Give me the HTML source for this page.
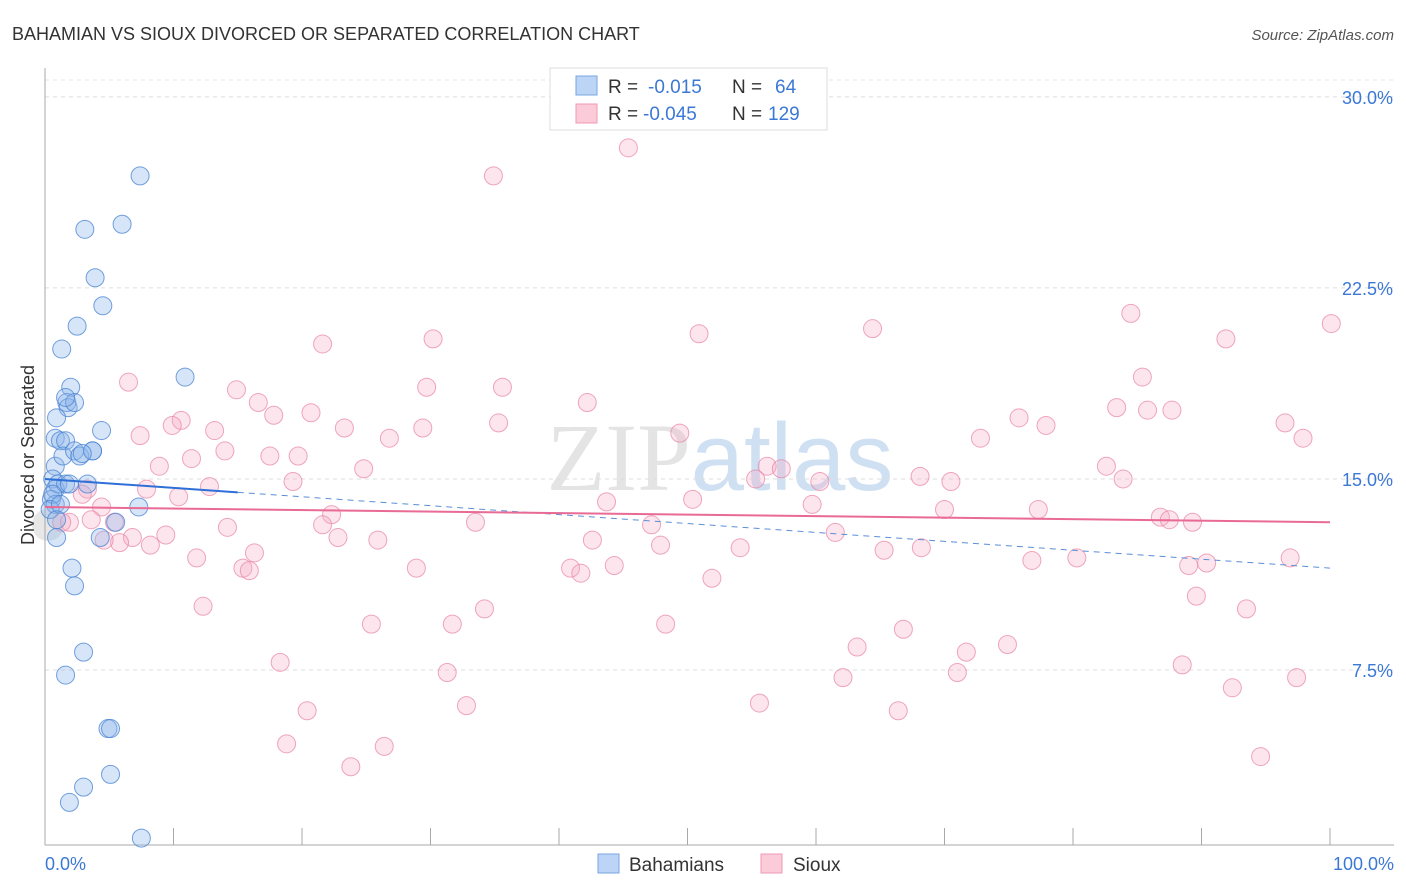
<!DOCTYPE html>
<html><head><meta charset="utf-8"><style>
body{margin:0;background:#fff;font-family:"Liberation Sans",sans-serif}
svg{display:block}
</style></head><body>
<svg width="1406" height="892">
<text x="12" y="40" font-size="18" fill="#333">BAHAMIAN VS SIOUX DIVORCED OR SEPARATED CORRELATION CHART</text>
<text x="1394" y="40" font-size="15" fill="#555" font-style="italic" text-anchor="end">Source: ZipAtlas.com</text>
<text x="720" y="490" font-size="96" fill="#e4e4e4" text-anchor="middle" font-family="Liberation Serif">ZIP<tspan fill="#cfe0f3" font-family="Liberation Sans">atlas</tspan></text>
<g id="grid"></g>
<g id="axes"></g>
<text transform="translate(34,455) rotate(-90)" font-size="18" fill="#333" text-anchor="middle">Divorced or Separated</text>
<text x="45" y="870" font-size="18" fill="#3b78d6">0.0%</text>
<text x="1394" y="870" font-size="18" fill="#3b78d6" text-anchor="end">100.0%</text>
<circle cx="48" cy="525" r="16" fill="rgba(160,160,160,0.25)"/>
<g id="pts"></g>
<g id="lines"></g>
<g>
<rect x="550" y="68" width="277" height="62" fill="#fff" stroke="#ddd"/>
<rect x="576" y="76" width="21" height="19" fill="#bcd4f5" stroke="#7aa6e3"/>
<rect x="576" y="104" width="21" height="19" fill="#fbcbd9" stroke="#ef9ab4"/>
<text x="608" y="93" font-size="19" fill="#333">R = <tspan fill="#3b78d6" x="648">-0.015</tspan><tspan x="732" fill="#333">N =</tspan><tspan x="775" fill="#3b78d6">64</tspan></text>
<text x="608" y="120" font-size="19" fill="#333">R = <tspan fill="#3b78d6" x="643">-0.045</tspan><tspan x="732" fill="#333">N =</tspan><tspan x="768" fill="#3b78d6">129</tspan></text>
</g>
<g>
<rect x="598" y="854" width="21" height="19" fill="#bcd4f5" stroke="#7aa6e3"/>
<text x="629" y="871" font-size="19" fill="#333">Bahamians</text>
<rect x="761" y="854" width="21" height="19" fill="#fbcbd9" stroke="#ef9ab4"/>
<text x="793" y="871" font-size="19" fill="#333">Sioux</text>
</g>
</svg>
<script>
const yTicks=[7.5,15,22.5,30];
const yTickLabels=["7.5%","15.0%","22.5%","30.0%"];
const xTicks=[0,10,20,30,40,50,60,70,80,90,100];
const blueX=[7.4,3.1,6.0,3.9,4.5,2.5,1.3,10.9,2.0,1.7,1.8,2.3,1.6,4.4,0.9,0.8,1.2,1.6,0.8,1.4,2.3,2.7,3.7,3.7,2.9,0.6,0.8,1.0,1.6,1.9,3.3,0.5,0.8,0.6,0.4,1.2,7.3,5.5,0.9,0.9,4.3,2.1,2.3,3.0,1.6,4.9,5.1,5.1,3.0,1.9,7.5];
const blueY=[26.9,24.8,25.0,22.9,21.8,21.0,20.1,19.0,18.6,18.0,17.8,18.0,18.2,16.9,17.4,16.6,16.5,16.5,15.5,15.9,16.1,15.9,16.1,16.1,16.0,15.0,14.6,14.8,14.8,14.8,14.8,14.2,14.0,14.4,13.8,14.0,13.9,13.3,12.7,13.4,12.7,11.5,10.8,8.2,7.3,5.2,5.2,3.4,2.9,2.3,0.9];
const pinkX=[45.4,34.9,84.5,100.1,64.4,50.9,91.9,30.2,21.6,6.5,14.9,29.7,35.6,85.4,42.2,16.6,17.8,20.7,83.4,85.8,87.7,75.8,96.5,10.6,9.9,13.2,23.3,7.4,26.8,29.4,35.3,49.4,72.8,77.9,97.9,14.0,11.4,17.5,19.7,8.9,24.8,56.2,57.3,82.6,55.3,68.1,70.5,83.9,19.3,12.8,7.9,3.3,2.9,60.3,10.4,50.4,43.7,59.7,70.0,77.3,4.4,22.3,33.5,47.2,21.6,14.2,5.4,3.6,1.9,1.3,86.8,87.5,89.3,61.5,6.8,5.8,4.6,8.2,9.4,22.8,25.9,42.6,47.9,54.1,65.3,68.2,16.3,11.8,96.9,76.8,80.3,89.0,90.4,15.4,15.9,28.9,40.9,41.7,44.3,51.9,89.6,12.3,34.2,93.5,25.4,31.7,48.3,66.8,63.2,71.7,74.9,18.3,88.5,31.3,62.1,71.0,92.4,97.4,32.8,20.4,55.6,66.4,18.8,26.4,23.8,94.6];
const pinkY=[28.0,26.9,21.5,21.1,20.9,20.7,20.5,20.5,20.3,18.8,18.5,18.6,18.6,19.0,18.0,18.0,17.5,17.6,17.8,17.7,17.7,17.4,17.2,17.3,17.1,16.9,17.0,16.7,16.6,17.0,17.2,16.8,16.6,17.1,16.6,16.1,15.8,15.9,15.9,15.5,15.4,15.5,15.4,15.5,15.0,15.1,14.9,15.0,14.9,14.7,14.6,14.6,14.4,14.9,14.3,14.2,14.1,14.0,13.8,13.8,13.9,13.6,13.3,13.2,13.2,13.1,13.3,13.4,13.3,13.3,13.5,13.4,13.3,12.9,12.7,12.5,12.6,12.4,12.8,12.7,12.6,12.6,12.4,12.3,12.2,12.3,12.1,11.9,11.9,11.8,11.9,11.6,11.7,11.5,11.4,11.5,11.5,11.3,11.6,11.1,10.4,10.0,9.9,9.9,9.3,9.3,9.3,9.1,8.4,8.2,8.5,7.8,7.7,7.4,7.2,7.4,6.8,7.2,6.1,5.9,6.2,5.9,4.6,4.5,3.7,4.1];
const blueFit=[15.0,11.5];
const pinkFit=[13.9,13.3];
const NS="http://www.w3.org/2000/svg";
const sx=v=>45+v*12.85;
const sy=v=>861-v*25.47;
function mk(t,a,p){const e=document.createElementNS(NS,t);for(const k in a)e.setAttribute(k,a[k]);p.appendChild(e);return e;}
const grid=document.getElementById('grid');
yTicks.forEach((t,i)=>{
 const l=mk('line',{x1:45,x2:1394,y1:sy(t),y2:sy(t),stroke:'#ddd','stroke-dasharray':'4,4'},grid);
 
 
 const tx=mk('text',{x:1393,y:sy(t)+7,'font-size':18,fill:'#3b78d6','text-anchor':'end'},grid);
 tx.textContent=yTickLabels[i];
 
 
});
mk('line',{x1:45,x2:1394,y1:80,y2:80,stroke:'#e4e4e4','stroke-dasharray':'4,4'},grid);
const ax=document.getElementById('axes');
const yl=mk('line',{x1:45,x2:45,y1:68,y2:845,stroke:'#aaa'},ax);


const xl=mk('line',{x1:45,x2:1394,y1:845,y2:845,stroke:'#aaa'},ax);


xTicks.forEach(t=>{
 const k=mk('line',{x1:sx(t),x2:sx(t),y1:828,y2:845,stroke:'#aaa'},ax);
 
 
});
const pts=document.getElementById('pts');
pinkX.forEach((x,i)=>{
 const c=mk('circle',{cx:sx(x),cy:sy(pinkY[i]),r:9,fill:'rgba(244,170,195,0.3)',stroke:'rgba(232,130,165,0.7)','stroke-width':1},pts);
 
 
});
blueX.forEach((x,i)=>{
 const c=mk('circle',{cx:sx(x),cy:sy(blueY[i]),r:9,fill:'rgba(140,180,235,0.35)',stroke:'rgba(70,130,210,0.75)','stroke-width':1},pts);
 
 
});
const lg=document.getElementById('lines');
const bAt=x=>blueFit[0]+(blueFit[1]-blueFit[0])*x/100;
const b1=mk('line',{x1:sx(0),y1:sy(bAt(0)),x2:sx(15),y2:sy(bAt(15)),stroke:'#2e6fd8','stroke-width':2},lg);


const b2=mk('line',{x1:sx(15),y1:sy(bAt(15)),x2:sx(100),y2:sy(bAt(100)),stroke:'#5a8ed8','stroke-width':1,'stroke-dasharray':'6,5'},lg);


const p1=mk('line',{x1:sx(0),y1:sy(pinkFit[0]),x2:sx(100),y2:sy(pinkFit[1]),stroke:'#e86a95','stroke-width':2},lg);


</script>
</body></html>
